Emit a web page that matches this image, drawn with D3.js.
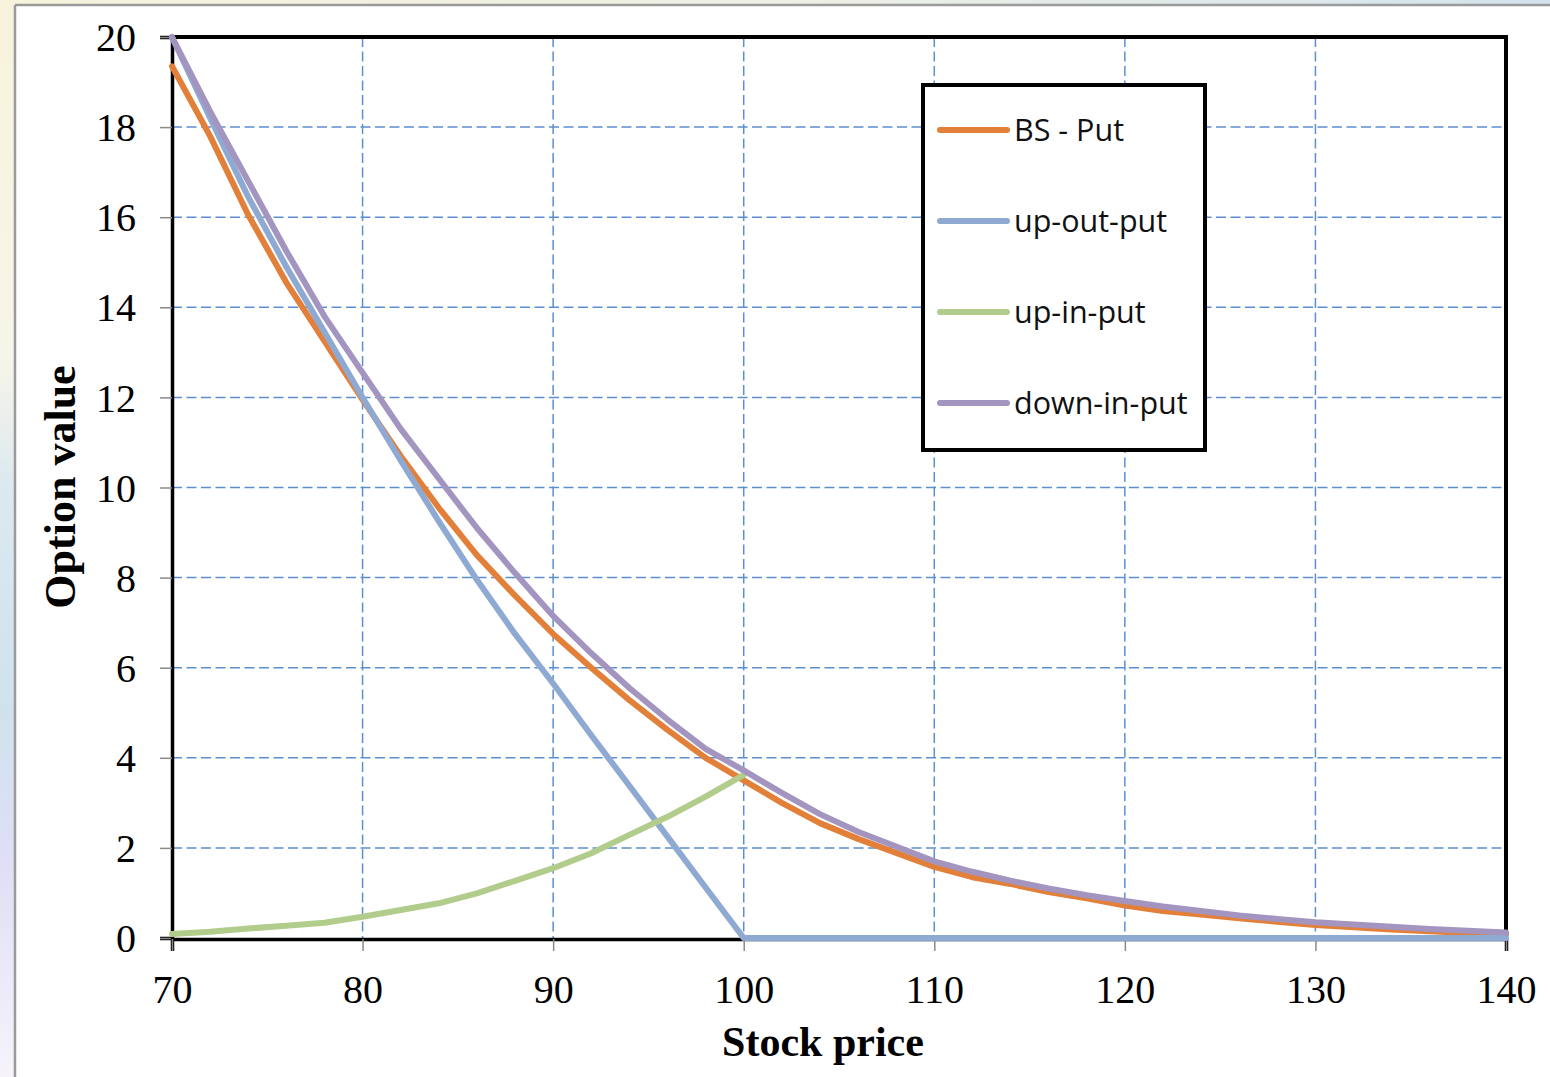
<!DOCTYPE html>
<html><head><meta charset="utf-8">
<script src="https://cdn.jsdelivr.net/npm/d3@7"></script>
<style>html,body{margin:0;padding:0;background:#fff;}svg{display:block;}</style>
</head><body>
<svg id="chart" width="1550" height="1077"></svg>
<script>
const stockPrice = [70,72,74,76,78,80,82,84,86,88,90,92,94,96,98,100,102,104,106,108,110,112,114,116,118,120,122,124,126,128,130,132,134,136,138,140];
const bsPut      = [19.35,17.8,16.05,14.55,13.25,11.95,10.7,9.55,8.5,7.6,6.75,6.0,5.28,4.62,4.0,3.5,3.0,2.55,2.2,1.89,1.58,1.35,1.2,1.02,0.88,0.72,0.6,0.52,0.44,0.36,0.29,0.24,0.19,0.15,0.11,0.08];
const upOutPut   = [20.0,18.2,16.45,14.9,13.45,12.0,10.6,9.25,7.95,6.75,5.65,4.5,3.38,2.25,1.12,0,0,0,0,0,0,0,0,0,0,0,0,0,0,0,0,0,0,0,0,0];
const upInPut    = [0.09,0.14,0.21,0.27,0.34,0.47,0.62,0.77,0.99,1.27,1.55,1.88,2.29,2.69,3.14,3.62];
const downInPut  = [20.0,18.35,16.8,15.25,13.8,12.55,11.3,10.2,9.1,8.1,7.15,6.32,5.55,4.85,4.2,3.72,3.22,2.75,2.36,2.03,1.7,1.47,1.27,1.1,0.95,0.82,0.7,0.6,0.5,0.42,0.35,0.3,0.25,0.2,0.16,0.12];
const xTicks = [70,80,90,100,110,120,130,140];
const yTicks = [0,2,4,6,8,10,12,14,16,18,20];
const seriesNames = ["BS - Put","up-out-put","up-in-put","down-in-put"];
const seriesColors = ["#e2803a","#8eaad3","#b2cc8c","#a395bf"];
const seriesValues = [bsPut, upOutPut, upInPut, downInPut];

const svg = d3.select("#chart");
const defs = svg.append("defs");
const gv = defs.append("linearGradient").attr("id","gv").attr("x1",0).attr("y1",0).attr("x2",0).attr("y2",1);
[[0,"#f7f3dc"],[0.33,"#f7f5e9"],[0.45,"#dde9f0"],[0.65,"#cfe2ed"],[0.8,"#dfdff5"],[1,"#f6f3fb"]].forEach(s=>gv.append("stop").attr("offset",s[0]).attr("stop-color",s[1]));
const gh = defs.append("linearGradient").attr("id","gh").attr("x1",0).attr("y1",0).attr("x2",1).attr("y2",0);
[[0,"#f7f3dc"],[0.5,"#eef0e4"],[1,"#d3e4ee"]].forEach(s=>gh.append("stop").attr("offset",s[0]).attr("stop-color",s[1]));

svg.append("rect").attr("x",0).attr("y",0).attr("width",1550).attr("height",1077).attr("fill","url(#gv)");
svg.append("rect").attr("x",0).attr("y",0).attr("width",1550).attr("height",6).attr("fill","url(#gh)");
svg.append("rect").attr("x",16).attr("y",6).attr("width",1534).attr("height",1071).attr("fill","#ffffff");
svg.append("line").attr("x1",15).attr("x2",15).attr("y1",5).attr("y2",1077).attr("stroke","#9a9a9a").attr("stroke-width",2.5);
svg.append("line").attr("x1",15).attr("x2",1550).attr("y1",5).attr("y2",5).attr("stroke","#9a9a9a").attr("stroke-width",2.5);

const x = d3.scaleLinear().domain([70,140]).range([172,1506]);
const y = d3.scaleLinear().domain([0,20]).range([938,37]);

// grid
const grid = svg.append("g");
grid.selectAll(".hg").data(yTicks.filter(v=>v>0 && v<20)).join("line")
  .attr("x1",x(70)).attr("x2",x(140)).attr("y1",d=>y(d)).attr("y2",d=>y(d))
  .attr("stroke","#5b8fd0").attr("stroke-width",1.5).attr("stroke-dasharray","10,4.5");
grid.selectAll(".vg").data(xTicks.filter(v=>v>70 && v<140)).join("line")
  .attr("x1",d=>x(d)).attr("x2",d=>x(d)).attr("y1",y(20)).attr("y2",y(0))
  .attr("stroke","#5b8fd0").attr("stroke-width",1.5).attr("stroke-dasharray","10,4.5");

// frame
svg.append("line").attr("x1",x(70)-2).attr("x2",x(140)+2).attr("y1",y(20)).attr("y2",y(20)).attr("stroke","#000").attr("stroke-width",4);
svg.append("line").attr("x1",x(140)).attr("x2",x(140)).attr("y1",y(20)-2).attr("y2",y(0)).attr("stroke","#000").attr("stroke-width",4);

// axes
const yAxis = svg.append("g").attr("transform",`translate(${x(70)},0)`)
  .call(d3.axisLeft(y).tickValues(yTicks).tickSize(12).tickPadding(24).tickFormat(d3.format("d")));
const xAxis = svg.append("g").attr("transform",`translate(0,${y(0)+1})`)
  .call(d3.axisBottom(x).tickValues(xTicks).tickSize(12).tickPadding(23).tickFormat(d3.format("d")));
[yAxis,xAxis].forEach(a=>{
  a.select(".domain").attr("stroke","#000").attr("stroke-width",3.5);
  a.selectAll(".tick line").attr("stroke","#8a8a8a").attr("stroke-width",1.5);
  a.selectAll(".tick text").attr("font-family","'Liberation Serif','Times New Roman',serif").attr("font-size",40).attr("fill","#000");
});
yAxis.selectAll(".tick text").attr("dy","0.34em");
xAxis.selectAll(".tick text").attr("dy","0.72em");

// series
const line = d3.line().x(d=>x(d[0])).y(d=>y(d[1])).curve(d3.curveLinear);
seriesValues.forEach((vals,i)=>{
  const pts = vals.map((v,j)=>[stockPrice[j],v]);
  svg.append("path").attr("d",line(pts)).attr("fill","none")
    .attr("stroke",seriesColors[i]).attr("stroke-width",6).attr("stroke-linejoin","round").attr("stroke-linecap","round");
});

// axis titles
svg.append("text").attr("x",823).attr("y",1056).attr("text-anchor","middle")
  .attr("font-family","'Liberation Serif','Times New Roman',serif").attr("font-weight","bold").attr("font-size",42).text("Stock price");
svg.append("text").attr("transform","translate(75,487) rotate(-90)").attr("text-anchor","middle")
  .attr("font-family","'Liberation Serif','Times New Roman',serif").attr("font-weight","bold").attr("font-size",44).text("Option value");

// legend
const lg = svg.append("g");
lg.append("rect").attr("x",923).attr("y",85).attr("width",282).attr("height",365).attr("fill","#fff").attr("stroke","#000").attr("stroke-width",4);
const rowsY = [130,221,312,403];
seriesNames.forEach((n,i)=>{
  lg.append("line").attr("x1",940).attr("x2",1007).attr("y1",rowsY[i]).attr("y2",rowsY[i])
    .attr("stroke",seriesColors[i]).attr("stroke-width",6).attr("stroke-linecap","round");
  lg.append("text").attr("x",1014).attr("y",rowsY[i]).attr("dy","0.35em")
    .attr("font-family","'Open Sans','Noto Sans',sans-serif").attr("font-size",30.5).attr("fill","#111").text(n);
});
</script>
</body></html>
